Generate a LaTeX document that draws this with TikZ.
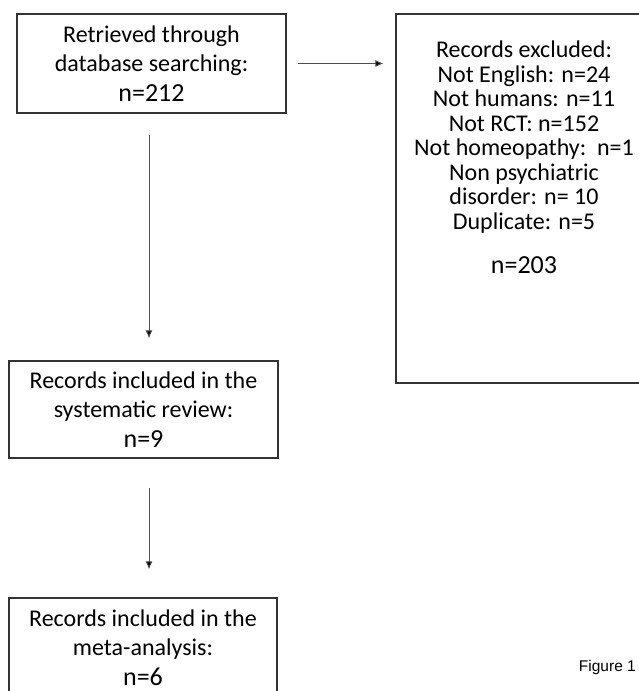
\documentclass[tikz,border=0pt]{standalone}
\usepackage{fontspec}
\setmainfont{Carlito}
\newfontfamily\arialfont{Liberation Sans}
\usetikzlibrary{arrows.meta}
\begin{document}
\begin{tikzpicture}[x=1pt,y=-1pt,
  boxstyle/.style={draw=black!80, line width=1.3pt, inner sep=0pt, align=center,
    font=\fontsize{24}{29}\selectfont},
  txtstyle/.style={inner sep=0pt, align=center, font=\fontsize{24}{24.5}\selectfont},
  arr/.style={draw=black!70, line width=0.9pt, -{Latex[length=8pt,width=7pt,fill=black]}}]
\useasboundingbox (0,0) rectangle (639,691);
\clip (0,0) rectangle (639,691);
\fill[white] (0,0) rectangle (639,691);
\newcommand{\nbig}[1]{{\fontsize{26}{31}\selectfont #1}}
\node[boxstyle, minimum width=269pt, minimum height=99pt] (b1) at (151.5,63.5)
  {Retrieved through\\database searching:\\[1pt]\nbig{n=212}};
\node[boxstyle, minimum width=256pt, minimum height=369pt] (b2) at (524,198.5) {};
\node[txtstyle, anchor=north] (b2t) at (524,41)
  {Records excluded:\\Not English: n=24\\Not humans: n=11\\Not RCT: n=152\\Not homeopathy:\ \ n=1\\Non psychiatric\\disorder: n= 10\\Duplicate: n=5\\[20pt]\nbig{n=203}};
\node[boxstyle, minimum width=269pt, minimum height=97pt] (b3) at (143.5,409.5)
  {Records included in the\\systematic review:\\[1pt]\nbig{n=9}};
\node[boxstyle, minimum width=268pt, minimum height=100pt] (b4) at (143,648)
  {Records included in the\\meta-analysis:\\[1pt]\nbig{n=6}};
\node[inner sep=0pt, anchor=base east, font=\arialfont\fontsize{15.5}{18}\selectfont] (fig) at (636,671) {Figure 1};
\draw[arr] ([xshift=11pt]b1.east) -- ([xshift=-12pt]b2.west |- b1.east);
\draw[arr] ([xshift=-2.5pt,yshift=-21pt]b1.south) -- ([xshift=5.5pt,yshift=22pt]b3.north);
\draw[arr] ([xshift=5.5pt,yshift=-29pt]b3.south) -- ([xshift=6pt,yshift=28pt]b4.north);
\end{tikzpicture}
\end{document}
